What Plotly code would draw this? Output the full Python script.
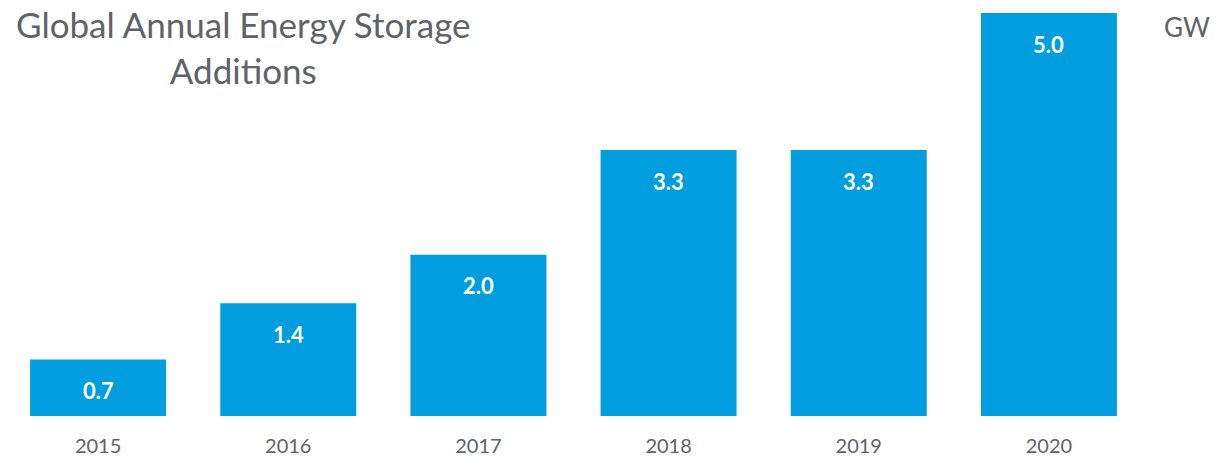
import plotly.graph_objects as go

years = ["2015", "2016", "2017", "2018", "2019", "2020"]
values = [0.7, 1.4, 2.0, 3.3, 3.3, 5.0]
labels = ["0.7", "1.4", "2.0", "3.3", "3.3", "5.0"]

BLUE = "#009DDF"
GRAY = "#5f6368"
FONT = "Lato"

fig = go.Figure(go.Bar(x=years, y=values, marker_color=BLUE, marker_line_width=0,
                       hoverinfo="skip"))

for i, (v, lab) in enumerate(zip(values, labels)):
    fig.add_annotation(x=i, y=v, text="<b>%s</b>" % lab, showarrow=False,
                       yanchor="middle", yshift=-31,
                       font=dict(family=FONT, size=22, color="white"))

fig.add_annotation(xref="paper", yref="paper", x=(243 - 3) / 1141, y=1 + 12 / 403,
                   xanchor="center", yanchor="top", align="center",
                   text="Global Annual Energy Storage<br>Additions", showarrow=False,
                   font=dict(family=FONT, size=35, color=GRAY))
fig.add_annotation(xref="paper", yref="paper", x=(1187 - 3) / 1141, y=1 - 14 / 403,
                   xanchor="center", yanchor="middle",
                   text="GW", showarrow=False,
                   font=dict(family=FONT, size=26, color=GRAY))

fig.update_layout(
    width=1216, height=456,
    margin=dict(l=3, r=72, t=13, b=40, autoexpand=False),
    paper_bgcolor="white", plot_bgcolor="white",
    bargap=0.285, showlegend=False,
    xaxis=dict(type="category", showgrid=False, showline=False, zeroline=False,
               automargin=False,
               ticks="outside", ticklen=12, tickcolor="rgba(0,0,0,0)",
               tickfont=dict(family=FONT, size=20, color=GRAY), range=[-0.5, 5.5]),
    yaxis=dict(visible=False, range=[0, 5.0], automargin=False),
)

fig.write_html("out.html", config={"displayModeBar": False},
               post_script="document.body.style.margin='0';document.body.style.overflow='hidden';")
